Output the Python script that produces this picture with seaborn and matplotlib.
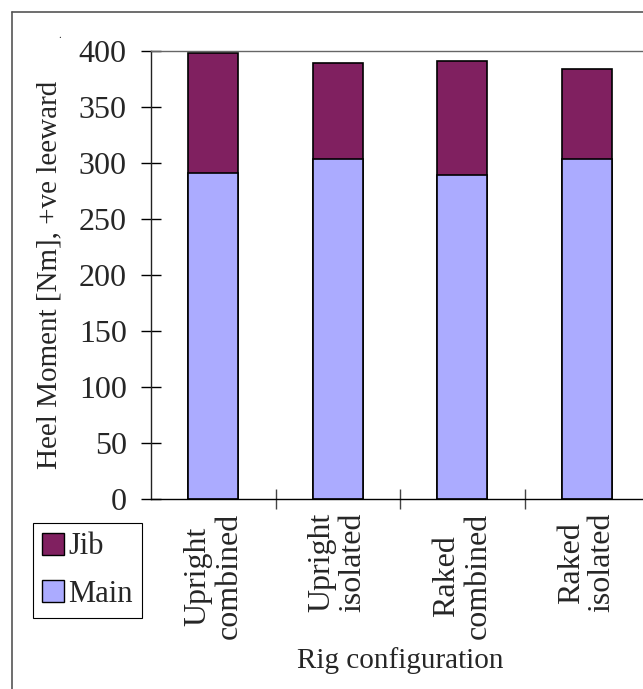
import matplotlib
matplotlib.use("Agg")
import matplotlib.pyplot as plt
import seaborn as sns
import pandas as pd
from matplotlib.patches import Patch
from matplotlib.lines import Line2D

# values
configs = ["Upright\ncombined", "Upright\nisolated", "Raked\ncombined", "Raked\nisolated"]
main_moment = [291, 304, 289, 304]
jib_moment = [107, 85, 102, 80]
y_ticks = [0, 50, 100, 150, 200, 250, 300, 350, 400]

MAIN_COLOR = "#ABABFF"
JIB_COLOR = "#802060"


def plot_heel_moment():
    df = pd.DataFrame({"config": configs, "Main": main_moment, "Jib": jib_moment})
    df["Total"] = df["Main"] + df["Jib"]

    sns.set_style("white")
    plt.rcParams["font.family"] = ["Liberation Serif", "DejaVu Serif"]

    W, H = 643, 689
    fig = plt.figure(figsize=(W / 100, H / 100), dpi=100)
    ax = fig.add_axes([151 / W, (H - 499) / H, 498 / W, 448 / H])

    # stacked bars: total (jib on top) first, main drawn over it
    sns.barplot(data=df, x="config", y="Total", color=JIB_COLOR, width=0.4,
                edgecolor="black", linewidth=1.2, saturation=1, ax=ax)
    sns.barplot(data=df, x="config", y="Main", color=MAIN_COLOR, width=0.4,
                edgecolor="black", linewidth=1.2, saturation=1, ax=ax)

    ax.set_xlim(-0.5, 3.5)
    ax.set_ylim(0, 400)
    ax.set_yticks(y_ticks)
    ax.tick_params(axis="y", left=True, direction="inout", length=15, width=1,
                   pad=10, labelsize=23, color="black")
    # category separators as minor ticks
    ax.set_xticks([0.5, 1.5, 2.5], minor=True)
    ax.tick_params(axis="x", which="minor", bottom=True, direction="inout",
                   length=15, width=1, color="#444444")
    ax.tick_params(axis="x", which="major", bottom=False, length=0, pad=10,
                   labelsize=23)
    ax.set_xticks(range(len(configs)))
    ax.set_xticklabels(configs, rotation=90, ha="center", va="top",
                       multialignment="center", linespacing=1.1)

    for side in ["left", "bottom", "top"]:
        ax.spines[side].set_visible(True)
        ax.spines[side].set_linewidth(1.0)
    ax.spines["left"].set_color("#222222")
    ax.spines["bottom"].set_color("black")
    ax.spines["top"].set_color("#666666")
    ax.spines["right"].set_visible(False)

    ax.set_ylabel("Heel Moment [Nm], +ve leeward", fontsize=21)
    ax.yaxis.set_label_coords(-0.178, 0.5)
    ax.set_xlabel("Rig configuration", fontsize=21)
    ax.xaxis.set_label_coords(0.5, -0.33)

    handles = [Patch(facecolor=JIB_COLOR, edgecolor="black", label="Jib"),
               Patch(facecolor=MAIN_COLOR, edgecolor="black", label="Main")]
    leg = fig.legend(handles=handles, loc="lower left",
                     bbox_to_anchor=(33 / W, (H - 618) / H), fontsize=22,
                     frameon=True, fancybox=False, edgecolor="black", framealpha=1,
                     handlelength=0.7, handleheight=0.7, handletextpad=0.15,
                     borderpad=0.3, labelspacing=0.6, borderaxespad=0)
    leg.get_frame().set_linewidth(0.8)

    # outer chart border (only left and top fall inside the image)
    fig.add_artist(Line2D([12 / W, 12 / W], [0, 1 - 12 / H], color="#555555", lw=1.2))
    fig.add_artist(Line2D([12 / W, 1], [1 - 12 / H, 1 - 12 / H], color="#555555", lw=1.2))
    fig.text(60 / W, 1 - 36 / H, ".", fontsize=8, ha="center", va="center")

    plt.savefig("out.png", dpi=100)


if __name__ == "__main__":
    plot_heel_moment()
